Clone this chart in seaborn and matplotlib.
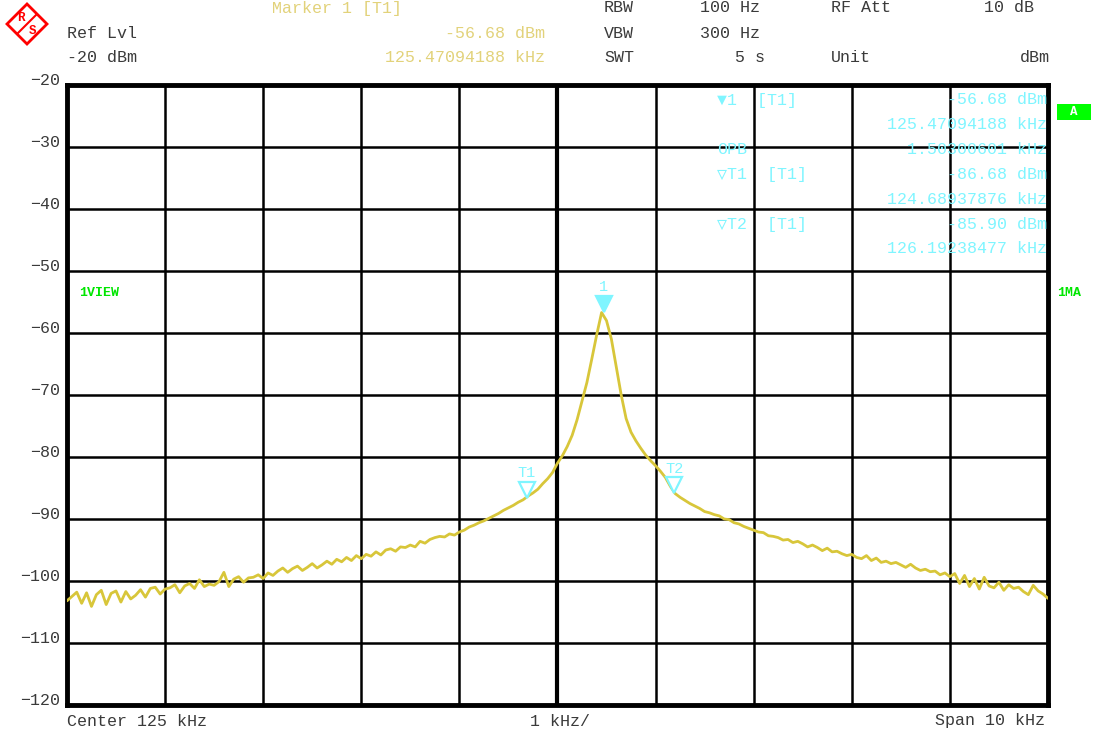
#!/usr/bin/env python3
"""
Spectrum analyzer screen capture (R&S style) recreated with seaborn
"""

import numpy as np
import pandas as pd
import matplotlib
matplotlib.use("Agg")
import matplotlib.pyplot as plt
import seaborn as sns
from matplotlib.patches import Polygon, Rectangle

# Sweep setup
center_khz = 125.0
span_khz = 10.0
ref_level = -20
y_bottom = -120

# Trace levels (dBm), one value every 0.05 kHz from 120.00 to 130.00 kHz
level_dbm = [
    -103.2, -102.5, -101.8, -103.6, -101.9, -104.1, -102.2, -101.5, -103.8, -102.0,
    -101.6, -103.4, -101.7, -102.9, -102.3, -101.4, -102.6, -101.2, -101.0, -102.1,
    -101.3, -101.1, -100.6, -101.9, -100.8, -100.4, -101.2, -99.8, -100.9, -100.5,
    -100.7, -100.1, -98.6, -100.9, -99.7, -99.3, -100.2, -99.5, -99.4, -99.0,
    -99.6, -98.7, -99.1, -98.4, -97.9, -98.6, -98.0, -97.6, -98.3, -97.8,
    -97.2, -97.9, -97.4, -96.8, -97.3, -96.5, -96.9, -96.2, -96.7, -95.9,
    -96.4, -95.7, -96.0, -95.3, -95.8, -95.0, -94.8, -95.2, -94.5, -94.6,
    -94.2, -94.5, -93.6, -93.9, -93.3, -93.0, -92.8, -92.9, -92.4, -92.6,
    -92.1, -91.8, -91.3, -91.0, -90.6, -90.3, -89.9, -89.5, -89.1, -88.6,
    -88.2, -87.8, -87.3, -86.9, -86.3, -85.8, -85.2, -84.3, -83.5, -82.5,
    -81.0, -79.8, -78.3, -76.5, -74.0, -71.0, -68.0, -64.2, -60.3, -56.7,
    -58.0, -61.0, -65.5, -70.0, -73.8, -76.0, -77.4, -78.6, -79.7, -80.6,
    -81.4, -82.3, -83.3, -84.7, -85.9, -86.5, -87.0, -87.5, -87.9, -88.3,
    -88.8, -89.0, -89.3, -89.5, -90.0, -90.1, -90.6, -90.8, -91.2, -91.5,
    -91.8, -92.1, -92.2, -92.7, -92.8, -93.0, -93.4, -93.3, -93.8, -93.6,
    -94.0, -94.5, -94.2, -94.6, -95.1, -94.7, -95.3, -95.2, -95.6, -95.9,
    -95.7, -96.2, -96.4, -95.9, -96.7, -96.3, -97.0, -96.8, -97.2, -97.0,
    -97.4, -97.8, -97.3, -97.9, -98.3, -98.1, -98.5, -98.4, -99.0, -98.7,
    -99.3, -98.8, -100.4, -99.1, -100.9, -99.6, -101.3, -99.4, -100.8, -101.1,
    -100.2, -101.5, -100.6, -101.2, -101.0, -101.7, -102.2, -100.7, -101.6, -102.1,
    -102.8,
]
freq_khz = np.linspace(center_khz - span_khz / 2, center_khz + span_khz / 2, len(level_dbm))

# Markers
marker_names = ["1", "T1", "T2"]
marker_freq = [125.47094188, 124.68937876, 126.19238477]
marker_level = [-56.68, -86.68, -85.90]
obw_khz = 1.50300601

TRACE = "#d8c63a"
CYAN = "#7ff5ff"
PALE = "#e2d27a"
GRAY = "#3a3a3a"
GREEN = "#00e600"
MONO = ["Liberation Mono", "DejaVu Sans Mono"]

sns.set_style("white")
plt.rcParams["font.family"] = MONO

fig = plt.figure(figsize=(10.94, 7.34), dpi=100)
ax = fig.add_axes([0.0612, 0.0395, 0.8967, 0.8447])

df = pd.DataFrame({"freq": freq_khz, "level": level_dbm})
sns.lineplot(data=df, x="freq", y="level", ax=ax, color=TRACE,
             linewidth=2.0, zorder=3)

ax.set_xlim(center_khz - span_khz / 2, center_khz + span_khz / 2)
ax.set_ylim(y_bottom, ref_level)
ax.set_xticks(np.arange(120, 131, 1))
ax.set_yticks(np.arange(y_bottom, ref_level + 1, 10))
ax.grid(True, color="black", linewidth=1.8)
ax.axvline(center_khz, color="black", linewidth=3.0, zorder=2)
ax.set_xlabel("")
ax.set_ylabel("")
ax.tick_params(axis="x", labelbottom=False, length=0)
ax.tick_params(axis="y", length=0, pad=5, labelsize=12, labelcolor=GRAY)
for lab in ax.get_yticklabels():
    lab.set_va("baseline")
for s in ax.spines.values():
    s.set_visible(True)
    s.set_color("black")
    s.set_linewidth(3.5)

# Marker triangles on the trace
shift = matplotlib.transforms.ScaledTranslation(0, 6 / 72, fig.dpi_scale_trans)
for name, f, lv in zip(marker_names, marker_freq, marker_level):
    filled = name == "1"
    ax.plot(f, lv, marker="v", markersize=11, markeredgewidth=1.6,
            markerfacecolor=CYAN if filled else "white", markeredgecolor=CYAN,
            linestyle="none", zorder=5, transform=ax.transData + shift)
    ax.annotate(name, (f, lv), xytext=(0, 13), textcoords="offset points",
                ha="center", va="bottom", color=CYAN, fontsize=11, zorder=5)

# Marker info block inside the graticule
info_rows = [
    ("\u25bc1  [T1]", f"{marker_level[0]:.2f} dBm"),
    ("", f"{marker_freq[0]:.8f} kHz"),
    ("OPB", f"{obw_khz:.8f} kHz"),
    ("\u25bdT1  [T1]", f"{marker_level[1]:.2f} dBm"),
    ("", f"{marker_freq[1]:.8f} kHz"),
    ("\u25bdT2  [T1]", f"{marker_level[2]:.2f} dBm"),
    ("", f"{marker_freq[2]:.8f} kHz"),
]
for i, (left, right) in enumerate(info_rows):
    y = 1 - (100 + 24.8 * i) / 734
    if left:
        fig.text(717 / 1094, y, left, color=CYAN, fontsize=12, va="center", ha="left")
    fig.text(1047 / 1094, y, right, color=CYAN, fontsize=12, va="center", ha="right")

# Header text
hdr = dict(fontsize=12, va="center")
fig.text(272 / 1094, 1 - 8 / 734, "Marker 1 [T1]", color=PALE, ha="left", **hdr)
fig.text(545 / 1094, 1 - 33 / 734, f"{marker_level[0]:.2f} dBm", color=PALE, ha="right", **hdr)
fig.text(545 / 1094, 1 - 58 / 734, f"{marker_freq[0]:.8f} kHz", color=PALE, ha="right", **hdr)
fig.text(67 / 1094, 1 - 33 / 734, "Ref Lvl", color=GRAY, ha="left", **hdr)
fig.text(67 / 1094, 1 - 58 / 734, f"{ref_level} dBm", color=GRAY, ha="left", **hdr)
fig.text(604 / 1094, 1 - 8 / 734, "RBW", color=GRAY, ha="left", **hdr)
fig.text(604 / 1094, 1 - 33 / 734, "VBW", color=GRAY, ha="left", **hdr)
fig.text(604 / 1094, 1 - 58 / 734, "SWT", color=GRAY, ha="left", **hdr)
fig.text(700 / 1094, 1 - 8 / 734, "100 Hz", color=GRAY, ha="left", **hdr)
fig.text(700 / 1094, 1 - 33 / 734, "300 Hz", color=GRAY, ha="left", **hdr)
fig.text(765 / 1094, 1 - 58 / 734, "5 s", color=GRAY, ha="right", **hdr)
fig.text(831 / 1094, 1 - 8 / 734, "RF Att", color=GRAY, ha="left", **hdr)
fig.text(831 / 1094, 1 - 58 / 734, "Unit", color=GRAY, ha="left", **hdr)
fig.text(1034 / 1094, 1 - 8 / 734, "10 dB", color=GRAY, ha="right", **hdr)
fig.text(1050 / 1094, 1 - 58 / 734, "dBm", color=GRAY, ha="right", **hdr)

# Footer text
fig.text(67 / 1094, 1 - 721 / 734, f"Center {center_khz:g} kHz", color=GRAY, ha="left", **hdr)
fig.text(560 / 1094, 1 - 721 / 734, f"{span_khz / 10:g} kHz/", color=GRAY, ha="center", **hdr)
fig.text(1045 / 1094, 1 - 721 / 734, f"Span {span_khz:g} kHz", color=GRAY, ha="right", **hdr)

# Side labels
fig.text(79 / 1094, 1 - 293 / 734, "1VIEW", color=GREEN, fontsize=9.5, fontweight="bold", va="center")
fig.text(1057 / 1094, 1 - 293 / 734, "1MA", color=GREEN, fontsize=9.5, fontweight="bold", va="center")
fig.patches.append(Rectangle((1057 / 1094, 1 - 120 / 734), 34 / 1094, 16 / 734,
                             transform=fig.transFigure, facecolor="#00ff00", edgecolor="none"))
fig.text(1074 / 1094, 1 - 112 / 734, "A", color="white", fontsize=9, fontweight="bold",
         ha="center", va="center")

# R&S logo
cx, cy, r = 27, 24, 20
diamond = [((cx - r) / 1094, 1 - cy / 734), (cx / 1094, 1 - (cy - r) / 734),
           ((cx + r) / 1094, 1 - cy / 734), (cx / 1094, 1 - (cy + r) / 734)]
fig.patches.append(Polygon(diamond, closed=True, transform=fig.transFigure,
                           facecolor="white", edgecolor="red", linewidth=2))
fig.text((cx - 6) / 1094, 1 - (cy - 6) / 734, "R", color="red", fontsize=9,
         fontweight="bold", ha="center", va="center")
fig.text((cx + 6) / 1094, 1 - (cy + 7) / 734, "S", color="red", fontsize=9,
         fontweight="bold", ha="center", va="center")
fig.lines.append(matplotlib.lines.Line2D([(cx - 10) / 1094, (cx + 10) / 1094],
                                         [1 - (cy + 10) / 734, 1 - (cy - 10) / 734],
                                         transform=fig.transFigure, color="red", linewidth=1.5))

fig.savefig("out.png", dpi=100, facecolor="white")
